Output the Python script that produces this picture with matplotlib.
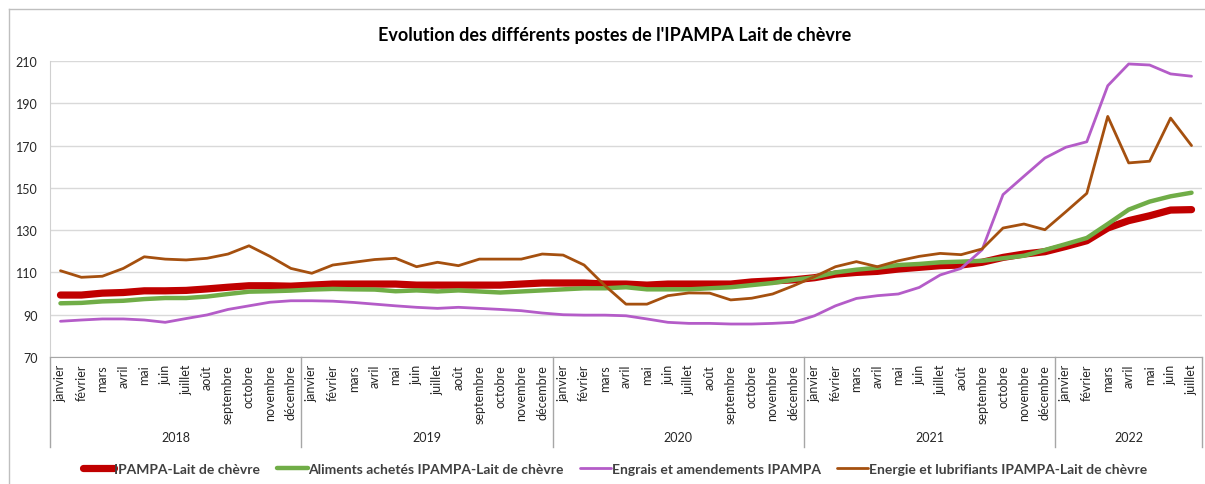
import matplotlib
matplotlib.use("Agg")
import matplotlib.pyplot as plt
import matplotlib.transforms as mtransforms

plt.rcParams["font.family"] = ["Lato", "DejaVu Sans"]

# --- Données ---
mois = ["janvier", "février", "mars", "avril", "mai", "juin", "juillet", "août",
        "septembre", "octobre", "novembre", "décembre"]
annees = ["2018", "2019", "2020", "2021", "2022"]
mois_par_annee = [12, 12, 12, 12, 7]

ipampa = [99.3, 99.3, 100.2, 100.5, 101.3, 101.3, 101.5, 102.2, 103.0, 103.7, 103.7, 103.5,
          104.0, 104.5, 104.5, 104.5, 104.5, 104.0, 104.0, 104.0, 104.0, 104.0, 104.5, 105.0,
          105.0, 105.0, 104.5, 104.5, 104.0, 104.5, 104.5, 104.5, 104.5, 105.5, 106.0, 106.5,
          107.5, 109.2, 110.0, 110.5, 111.6, 112.4, 113.2, 113.5, 114.8, 117.1, 118.7, 119.8,
          122.3, 125.0, 131.0, 134.5, 136.8, 139.5, 139.7]
aliments = [95.4, 95.6, 96.3, 96.6, 97.4, 97.9, 97.9, 98.6, 99.8, 100.9, 101.1, 101.4,
            101.9, 102.2, 102.0, 101.9, 101.1, 101.5, 101.0, 101.5, 101.0, 100.5, 101.0, 101.5,
            102.0, 102.5, 102.5, 103.0, 102.0, 102.0, 102.0, 102.5, 103.0, 104.0, 105.0, 106.5,
            107.7, 110.0, 111.3, 112.2, 113.5, 114.0, 114.8, 115.1, 115.5, 116.7, 117.9, 120.6,
            123.4, 126.3, 132.9, 139.7, 143.5, 146.0, 147.7]
engrais = [86.9, 87.5, 88.0, 88.0, 87.5, 86.4, 88.2, 89.9, 92.5, 94.2, 95.9, 96.6,
           96.6, 96.4, 95.8, 95.0, 94.2, 93.5, 93.0, 93.5, 93.0, 92.5, 91.9, 90.8,
           90.0, 89.8, 89.8, 89.5, 88.0, 86.4, 85.9, 85.9, 85.6, 85.6, 85.9, 86.4,
           89.5, 94.2, 97.7, 99.0, 99.8, 102.9, 108.8, 111.9, 120.7, 146.8, 155.5, 164.1,
           169.2, 171.8, 198.3, 208.6, 208.1, 203.9, 202.8]
energie = [110.8, 107.7, 108.2, 111.9, 117.4, 116.3, 115.9, 116.7, 118.7, 122.6, 117.6, 111.9,
           109.6, 113.5, 114.8, 116.1, 116.7, 112.7, 114.8, 113.2, 116.3, 116.3, 116.3, 118.7,
           118.2, 113.5, 103.7, 95.0, 95.0, 99.0, 100.3, 100.2, 97.0, 97.8, 99.8, 103.7,
           108.0, 112.7, 115.1, 112.7, 115.5, 117.6, 119.0, 118.4, 121.1, 131.0, 132.9, 130.2,
           138.7, 147.4, 183.8, 161.8, 162.6, 183.0, 170.0]

series = [
    ("IPAMPA-Lait de chèvre", ipampa, "#C00000", 5.2),
    ("Aliments achetés IPAMPA-Lait de chèvre", aliments, "#70AD47", 3.2),
    ("Engrais et amendements IPAMPA", engrais, "#B45CC8", 2.0),
    ("Energie et lubrifiants IPAMPA-Lait de chèvre", energie, "#A5500F", 2.0),
]

etiquettes = []
for n in mois_par_annee:
    etiquettes += mois[:n]
x = list(range(len(etiquettes)))

fig = plt.figure(figsize=(12.05, 4.85), dpi=100)
ax = fig.add_axes([50 / 1205, 1 - 358 / 485, (1202 - 50) / 1205, (358 - 62) / 485])

for nom, val, couleur, lw in series:
    ax.plot(x, val, color=couleur, lw=lw, label=nom, solid_capstyle="round", zorder=3)

ax.set_ylim(70, 210)
ax.set_yticks(range(70, 211, 20))
ax.set_xlim(-0.5, len(x) - 0.5)
ax.grid(axis="y", color="#D9D9D9", lw=1)
ax.set_axisbelow(True)
for s in ["top", "right"]:
    ax.spines[s].set_visible(False)
ax.spines["left"].set_color("#D0D0D0")
ax.spines["bottom"].set_color("#A6A6A6")
ax.tick_params(axis="y", length=0, labelsize=9, labelcolor="#262626", pad=9)
ax.set_xticks(x)
ax.set_xticklabels(etiquettes, rotation=90, fontsize=9, color="#262626")
ax.tick_params(axis="x", length=0, pad=5)

# séparateurs et années
trans = mtransforms.blended_transform_factory(ax.transData, ax.transAxes)
debut = 0
bornes = [-0.5]
for an, n in zip(annees, mois_par_annee):
    ax.text(debut + (n - 1) / 2, -0.27, an, transform=trans, ha="center", va="center",
            fontsize=9, color="#262626")
    debut += n
    bornes.append(debut - 0.5)
for b in bornes:
    ax.plot([b, b], [0, -0.304], transform=trans, color="#A6A6A6", lw=1, clip_on=False)

fig.suptitle("Evolution des différents postes de l'IPAMPA Lait de chèvre",
             x=615 / 1205, y=1 - 35 / 485, va="center", fontsize=13, fontweight="bold")

fig.legend(loc="center", bbox_to_anchor=(615 / 1205, 1 - 470 / 485), ncol=4, frameon=False,
           handlelength=2.2, handletextpad=0.05, columnspacing=1.2,
           prop={"size": 10, "weight": "bold"}, labelcolor="#404040")

# cadre de la zone de graphique
fig.add_artist(plt.Line2D([9 / 1205, 9 / 1205], [0, 1 - 10 / 485], color="#BFBFBF", lw=1))
fig.add_artist(plt.Line2D([9 / 1205, 1], [1 - 10 / 485, 1 - 10 / 485], color="#BFBFBF", lw=1))

fig.savefig("out.png", dpi=100)
